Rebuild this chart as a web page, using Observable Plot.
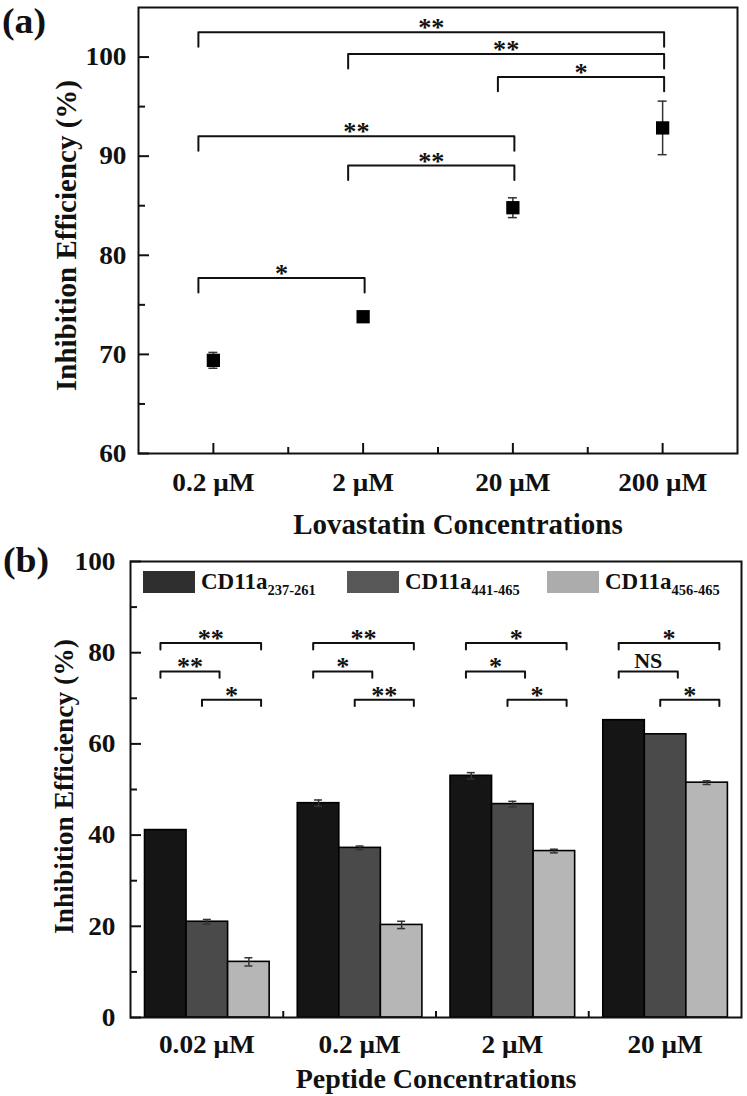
<!DOCTYPE html>
<html>
<head>
<meta charset="utf-8">
<script src="https://cdn.jsdelivr.net/npm/d3@7"></script>
<script src="https://cdn.jsdelivr.net/npm/@observablehq/plot@0.6"></script>
<style>
  body { margin: 0; background: #fff; }
  #wrap { position: relative; width: 747px; height: 1096px; font-family: "Liberation Serif", "Times New Roman", serif; font-weight: bold; color: #111; overflow: hidden; }
  #wrap svg { display: block; }
  .tag { position: absolute; font-size: 36px; line-height: 1; transform: scaleX(1.05); transform-origin: left top; }
  #legend { position: absolute; left: 143px; top: 571px; display: grid; grid-template-columns: 204px 200px auto; align-items: center; }
  .item { display: flex; align-items: center; }
  .sw { width: 52px; height: 22px; margin-right: 6px; }
  .lt { font-size: 23px; white-space: nowrap; line-height: 22px; }
  .lt sub { font-size: 14.5px; vertical-align: -6px; line-height: 0; }
</style>
</head>
<body>
<div id="wrap">
  <div id="pa"></div>
  <div id="pb"></div>
  <div class="tag" style="left:2px;top:3px">(a)</div>
  <div class="tag" style="left:3px;top:542px">(b)</div>
  <div id="legend"></div>
</div>
<script>
// ---------- Panel (a) data ----------
const lovCats = ["0.2 μM", "2 μM", "20 μM", "200 μM"];
const lovMean = [69.4, 73.8, 84.8, 92.85];
const lovErr = [0.8, 0.3, 1.0, 2.7];
const lovBrFrom = [0, 1, 2, 0, 1, 0];
const lovBrTo = [3, 3, 3, 2, 2, 1];
const lovBrY = [102.5, 100.3, 98.0, 92.0, 89.05, 77.7];
const lovBrLabel = ["**", "**", "*", "**", "**", "*"];
const yTicksA = [60, 70, 80, 90, 100];
const yMinorA = [65, 75, 85, 95];
const titleXA = "Lovastatin Concentrations";
const titleY = "Inhibition Efficiency (%)";

// ---------- Panel (b) data ----------
const pepCats = ["0.02 μM", "0.2 μM", "2 μM", "20 μM"];
const pepSeries = ["CD11a237-261", "CD11a441-465", "CD11a456-465"];
const pepSub = ["237-261", "441-465", "456-465"];
const cd237 = [41.1, 47.0, 53.0, 65.2];
const cd237Err = [0, 0.7, 0.7, 0];
const cd441 = [21.0, 37.2, 46.8, 62.1];
const cd441Err = [0.5, 0.4, 0.6, 0];
const cd456 = [12.2, 20.3, 36.5, 51.5];
const cd456Err = [0.9, 0.8, 0.4, 0.4];
const pepBrFrom = [0, 0, 1];
const pepBrTo = [2, 1, 2];
const pepBrY = [82.1, 75.9, 69.7];
const pepBrLabels = [
  ["**", "**", "*"],
  ["**", "*", "**"],
  ["*", "*", "*"],
  ["*", "NS", "*"]
];
const yTicksB = [0, 20, 40, 60, 80, 100];
const yMinorB = [10, 30, 50, 70, 90];
const titleXB = "Peptide Concentrations";

const barColors = ["#151515", "#4a4a4a", "#b6b6b6"];
const legendColors = ["#2f2f2f", "#575757", "#acacac"];
const font = '"Liberation Serif", "Times New Roman", serif';
const W = 747;
const noStretch = new Set([titleXA, titleXB, titleY]);

function stretch(svg, k) {
  svg.querySelectorAll("text").forEach(t => {
    if (noStretch.has(t.textContent)) return;
    const len = t.getComputedTextLength();
    if (len > 0) {
      t.setAttribute("textLength", len * k);
      t.setAttribute("lengthAdjust", "spacingAndGlyphs");
    }
  });
}

// ---------- Panel (a) ----------
const lov = lovCats.map((c, i) => ({x: i + 1, c, m: lovMean[i], e: lovErr[i]}));
const brA = lovBrFrom.map((f, i) => ({x1: f + 1 - 0.1, x2: lovBrTo[i] + 1 + 0.01, y: lovBrY[i], label: lovBrLabel[i]}));
const legA = 1.46;
const brAPts = brA.flatMap((b, i) => [
  {id: i, x: b.x1, y: b.y - legA}, {id: i, x: b.x1, y: b.y},
  {id: i, x: b.x2, y: b.y}, {id: i, x: b.x2, y: b.y - legA}
]);

const plotA = Plot.plot({
  width: W, height: 540,
  marginTop: 7, marginLeft: 138, marginRight: 10, marginBottom: 87,
  x: {type: "linear", domain: [0.5, 4.5]},
  y: {domain: [60, 105]},
  style: {fontFamily: font, fontWeight: "bold", color: "#111", background: "transparent"},
  marks: [
    Plot.ruleY(yTicksA, {y: d => d, x1: 0.5, x2: 0.5, insetRight: -11, strokeWidth: 2, stroke: "#111"}),
    Plot.ruleY(yMinorA, {y: d => d, x1: 0.5, x2: 0.5, insetRight: -7, strokeWidth: 2, stroke: "#111"}),
    Plot.ruleX([1, 2, 3, 4], {x: d => d, y1: 60, y2: 60, insetBottom: 10, strokeWidth: 2, stroke: "#111"}),
    Plot.ruleX([1.5, 2.5, 3.5], {x: d => d, y1: 60, y2: 60, insetBottom: 6, strokeWidth: 2, stroke: "#111"}),
    Plot.axisY(yTicksA, {tickSize: 0, tickPadding: 12, fontSize: 26, label: null}),
    Plot.axisX([1, 2, 3, 4], {tickSize: 0, tickPadding: 19, fontSize: 26, tickFormat: d => lovCats[d - 1], label: null}),
    Plot.text([titleXA], {text: d => d, frameAnchor: "bottom", textAnchor: "middle", lineAnchor: "middle", dy: 71, dx: 20, fontSize: 29}),
    Plot.text([titleY], {text: d => d, frameAnchor: "left", textAnchor: "middle", lineAnchor: "middle", rotate: -90, dx: -72, dy: 5, fontSize: 29}),
    Plot.line(brAPts, {x: "x", y: "y", z: "id", stroke: "#111", strokeWidth: 2}),
    Plot.text(brA, {x: d => (d.x1 + d.x2) / 2, y: "y", text: "label", lineAnchor: "bottom", dy: 4, fontSize: 25}),
    Plot.ruleX(lov, {x: "x", y1: d => d.m - d.e, y2: d => d.m + d.e, stroke: "#333", strokeWidth: 1.5}),
    Plot.ruleY(lov, {x1: "x", x2: "x", y: d => d.m + d.e, insetLeft: -4.5, insetRight: -4.5, stroke: "#333", strokeWidth: 1.5}),
    Plot.ruleY(lov, {x1: "x", x2: "x", y: d => d.m - d.e, insetLeft: -4.5, insetRight: -4.5, stroke: "#333", strokeWidth: 1.5}),
    Plot.dot(lov, {x: "x", y: "m", symbol: "square", r: 7.5, fill: "#000"}),
    Plot.frame({stroke: "#111", strokeWidth: 2})
  ]
});
document.getElementById("pa").appendChild(plotA);
stretch(plotA, 1.05);

// ---------- Panel (b) ----------
const bx0 = 0.095, bw = 0.272;
const center = j => bx0 + bw * (j + 0.5);
const valsB = [cd237, cd441, cd456];
const errsB = [cd237Err, cd441Err, cd456Err];
const bars = pepCats.flatMap((c, i) => pepSeries.map((s, j) => ({
  g: i, s, x1: i + bx0 + j * bw, x2: i + bx0 + (j + 1) * bw, xc: i + center(j),
  v: valsB[j][i], e: errsB[j][i]
})));
const barsErr = bars.filter(d => d.e > 0);
const brB = pepCats.flatMap((c, i) => pepBrFrom.map((f, k) => ({
  x1: i + center(f) - 0.035, x2: i + center(pepBrTo[k]) + 0.08, y: pepBrY[k], label: pepBrLabels[i][k]
})));
const legB = 1.4;
const brBPts = brB.flatMap((b, i) => [
  {id: i, x: b.x1, y: b.y - legB}, {id: i, x: b.x1, y: b.y},
  {id: i, x: b.x2, y: b.y}, {id: i, x: b.x2, y: b.y - legB}
]);

const plotB = Plot.plot({
  width: W, height: 556,
  marginTop: 21, marginLeft: 130, marginRight: 6, marginBottom: 79,
  x: {type: "linear", domain: [0, 4]},
  y: {domain: [0, 100]},
  color: {domain: pepSeries, range: barColors},
  style: {fontFamily: font, fontWeight: "bold", color: "#111", background: "transparent"},
  marks: [
    Plot.ruleY(yTicksB, {y: d => d, x1: 0, x2: 0, insetRight: -11, strokeWidth: 2, stroke: "#111"}),
    Plot.ruleY(yMinorB, {y: d => d, x1: 0, x2: 0, insetRight: -7, strokeWidth: 2, stroke: "#111"}),
    Plot.ruleX([0.5, 1.5, 2.5, 3.5], {x: d => d, y1: 0, y2: 0, insetBottom: 10, strokeWidth: 2, stroke: "#111"}),
    Plot.ruleX([1, 2, 3], {x: d => d, y1: 0, y2: 0, insetBottom: 6, strokeWidth: 2, stroke: "#111"}),
    Plot.rectY(bars, {x1: "x1", x2: "x2", y1: 0, y2: "v", fill: "s", stroke: "#000", strokeWidth: 1.6}),
    Plot.ruleX(barsErr, {x: "xc", y1: d => d.v - d.e, y2: d => d.v + d.e, stroke: "#333", strokeWidth: 1.5}),
    Plot.ruleY(barsErr, {x1: "xc", x2: "xc", y: d => d.v + d.e, insetLeft: -4, insetRight: -4, stroke: "#333", strokeWidth: 1.5}),
    Plot.ruleY(barsErr, {x1: "xc", x2: "xc", y: d => d.v - d.e, insetLeft: -4, insetRight: -4, stroke: "#333", strokeWidth: 1.5}),
    Plot.axisY(yTicksB, {tickSize: 0, tickPadding: 15, fontSize: 26, label: null}),
    Plot.axisX([0.5, 1.5, 2.5, 3.5], {tickSize: 0, tickPadding: 17, fontSize: 26, tickFormat: d => pepCats[d - 0.5], label: null}),
    Plot.text([titleXB], {text: d => d, frameAnchor: "bottom", textAnchor: "middle", lineAnchor: "middle", dy: 62, fontSize: 28}),
    Plot.text([titleY], {text: d => d, frameAnchor: "left", textAnchor: "middle", lineAnchor: "middle", rotate: -90, dx: -66, dy: -3, fontSize: 27.5}),
    Plot.line(brBPts, {x: "x", y: "y", z: "id", stroke: "#111", strokeWidth: 2}),
    Plot.text(brB.filter(d => d.label !== "NS"), {x: d => (d.x1 + d.x2) / 2, y: "y", text: "label", lineAnchor: "bottom", dy: 4, fontSize: 25}),
    Plot.text(brB.filter(d => d.label === "NS"), {x: d => (d.x1 + d.x2) / 2, y: "y", text: "label", lineAnchor: "bottom", dy: -3, fontSize: 21}),
    Plot.frame({stroke: "#111", strokeWidth: 2})
  ]
});
document.getElementById("pb").appendChild(plotB);
stretch(plotB, 1.05);

// ---------- Legend ----------
const legend = document.getElementById("legend");
pepSeries.forEach((s, j) => {
  const item = document.createElement("div");
  item.className = "item";
  const sw = document.createElement("div");
  sw.className = "sw";
  sw.style.background = legendColors[j];
  const lt = document.createElement("div");
  lt.className = "lt";
  lt.innerHTML = "CD11a<sub>" + pepSub[j] + "</sub>";
  item.appendChild(sw);
  item.appendChild(lt);
  legend.appendChild(item);
});
</script>
</body>
</html>
